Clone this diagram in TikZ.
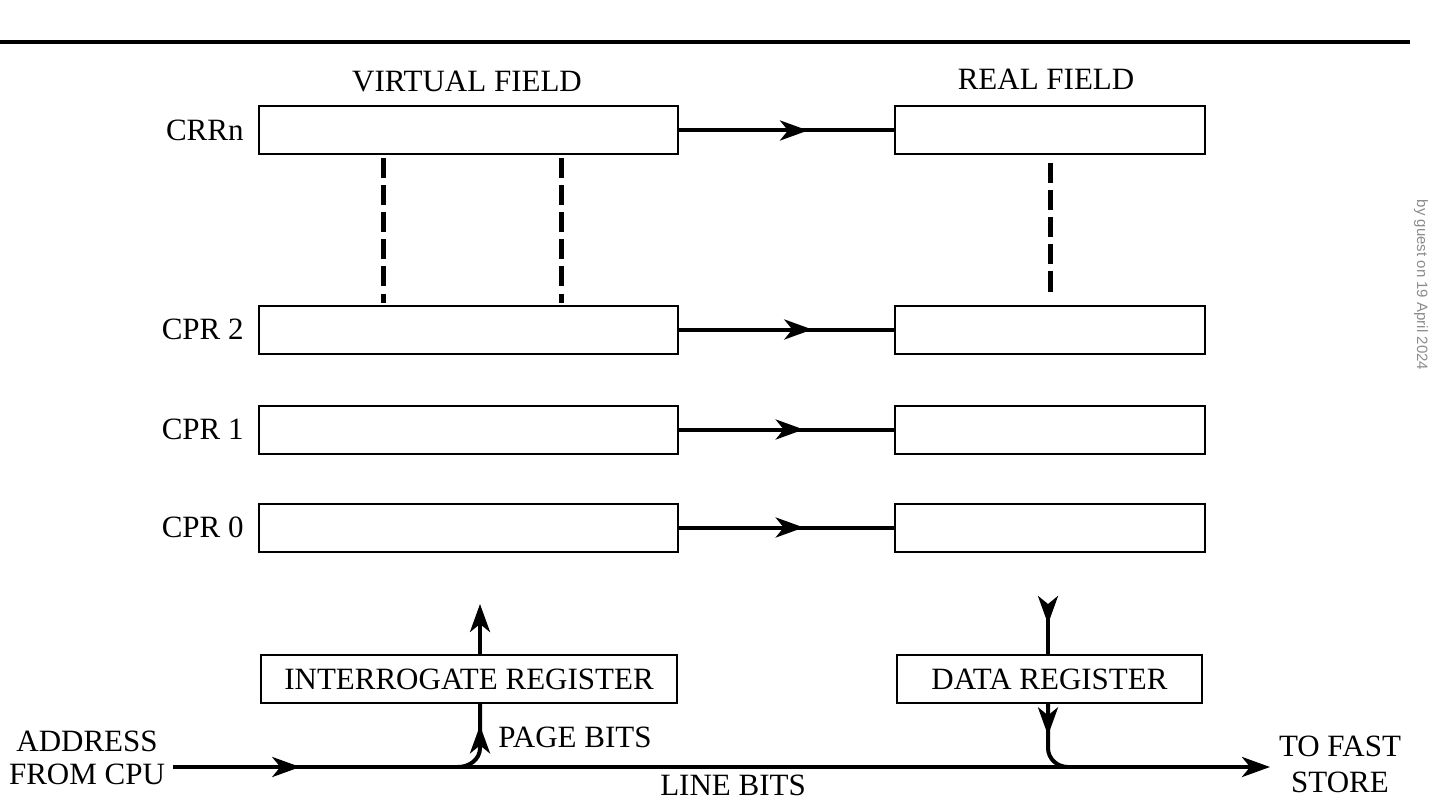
\documentclass[tikz,border=0pt]{standalone}
\usepackage{fontspec}
\setmainfont{Liberation Serif}
\setsansfont{Liberation Sans}
\usepackage{tikz}
\usetikzlibrary{arrows.meta,positioning,calc,decorations.markings}
\tikzset{
  reg/.style={draw,line width=1pt,minimum height=24pt,inner sep=0pt,font=\fontsize{15.5}{16.5}\selectfont},
  vreg/.style={reg,minimum width=209.5pt},
  rreg/.style={reg,minimum width=155pt},
  lbl/.style={font=\fontsize{15.5}{16.5}\selectfont,inner sep=0pt},
  bus/.style={line width=2pt},
  tip/.style={-{Stealth[length=14pt,width=10pt,inset=4pt]}},
  midtip/.style={postaction={decorate},decoration={markings,
    mark=at position #1 with {\arrow{Stealth[length=14pt,width=10pt,inset=4pt]}}}},
  dashline/.style={line width=2.5pt,dash pattern=on 10pt off 3.5pt}
}

\begin{document}
\begin{tikzpicture}[x=0.5pt,y=-0.5pt]
\useasboundingbox (0,0) rectangle (1429,802);
\draw[line width=2pt] (0,42) -- (1410,42);
\node[rotate=-90,text=gray!90,font=\sffamily\fontsize{7.5}{8}\selectfont,inner sep=0pt] (wm) at (1421,285) {by guest on 19 April 2024};

\node[lbl] (vtitle) at (467,82) {VIRTUAL FIELD};
\node[lbl] (rtitle) at (1046,79) {REAL FIELD};

\node[vreg] (v3) at (468.5,130.5) {};
\node[vreg] (v2) at (468.5,329.5) {};
\node[vreg] (v1) at (468.5,429.5) {};
\node[vreg] (v0) at (468.5,527.5) {};
\node[rreg] (r3) at (1050,130.5) {};
\node[rreg] (r2) at (1050,329.5) {};
\node[rreg] (r1) at (1050,429.5) {};
\node[rreg] (r0) at (1050,527.5) {};

\node[lbl,left=7pt of v3] (l3) {CRRn};
\node[lbl,left=7pt of v2] (l2) {CPR 2};
\node[lbl,left=7pt of v1] (l1) {CPR 1};
\node[lbl,left=7pt of v0] (l0) {CPR 0};

\draw[bus,midtip=0.6] (v3) -- (r3);
\draw[bus,midtip=0.62] (v2) -- (r2);
\draw[bus,midtip=0.58] (v1) -- (r1);
\draw[bus,midtip=0.58] (v0) -- (r0);

\draw[dashline] ($(v3.south)+(-85.5,3)$) -- ($(v2.north)+(-85.5,-2)$);
\draw[dashline] ($(v3.south)+(92.5,3)$) -- ($(v2.north)+(92.5,-2)$);
\draw[dashline] ($(r3.south)+(0,8)$) -- ($(r2.north)+(0,-8)$);

\node[reg,minimum width=208pt] (intr) at (469,679) {INTERROGATE REGISTER};
\node[reg,minimum width=152.5pt] (datr) at (1049.5,679) {DATA REGISTER};

\coordinate (in) at (173,767);
\coordinate (out) at (1270,767);
\draw[bus,tip,midtip=0.116] (in) -- (out);

\draw[bus,tip] ($(intr.north)+(11,0)$) -- ++(0,-50);
\draw[bus,midtip=0.72] (458,767) to[out=0,in=-90] (480,748) -- ($(intr.south)+(11,0)$);
\draw[bus,midtip=0.4] ($(datr.north)+(-1.5,-50)$) -- ($(datr.north)+(-1.5,0)$);
\draw[bus,midtip=0.42] ($(datr.south)+(-1.5,0)$) -- (1048,748) to[out=-90,in=180] (1068,767);

\node[lbl] (pgbits) at (575,737) {PAGE BITS};
\node[lbl] (lnbits) at (733,785) {LINE BITS};
\node[lbl,align=center] (addr) at (87,758) {ADDRESS\\FROM CPU};
\node[lbl,align=center] (fstore) at (1340,764) {TO FAST\\[1.5pt]STORE};
\end{tikzpicture}
\end{document}
